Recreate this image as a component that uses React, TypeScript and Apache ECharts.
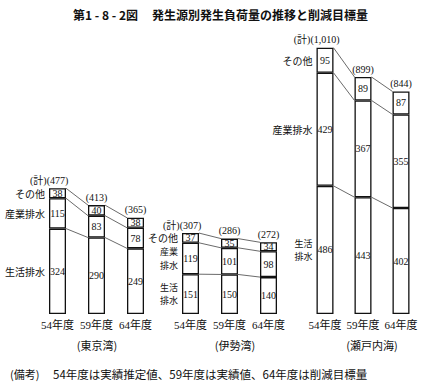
import React, { useEffect, useRef } from 'react';
import * as echarts from 'echarts';

const years = ['54年度', '59年度', '64年度'];
const regions = ['(東京湾)', '(伊勢湾)', '(瀬戸内海)'];
const seikatsu = [[324, 290, 249], [151, 150, 140], [486, 443, 402]];
const sangyo = [[115, 83, 78], [119, 101, 98], [429, 367, 355]];
const sonota = [[38, 40, 38], [37, 35, 34], [95, 89, 87]];
const segNames = [
  ['生活排水', '産業排水', 'その他'],
  ['生活\n排水', '産業\n排水', 'その他'],
  ['生活\n排水', '産業排水', 'その他'],
];
const titleNo = '第1 - 8 - 2図';
const titleText = '発生源別発生負荷量の推移と削減目標量';
const noteHead = '(備考)';
const noteText = '54年度は実績推定値、59年度は実績値、64年度は削減目標量';

export default function App() {
  const ref = useRef<HTMLDivElement>(null);
  useEffect(() => {
    const chart = echarts.init(ref.current!, null, { renderer: 'svg' });
    const font = '"Liberation Serif", "Noto Sans CJK JP", serif';
    const cjk = '"Noto Sans CJK JP", sans-serif';
    const grids = [
      { left: 38, width: 117 },
      { left: 171, width: 117 },
      { left: 306, width: 114 },
    ];
    const groupCenters = [97, 235, 372];
    const barW = 17;
    const measure = (t: string, size: number) => {
      const c = document.createElement('canvas').getContext('2d')!;
      c.font = `${size}px ${font}`;
      return c.measureText(t).width;
    };
    const series: any[] = [];
    regions.forEach((r, k) => {
      const segs = [seikatsu[k], sangyo[k], sonota[k]];
      segs.forEach((vals) => {
        series.push({
          type: 'bar',
          xAxisIndex: k,
          yAxisIndex: k,
          stack: 'g' + k,
          barWidth: barW,
          data: vals,
          itemStyle: { color: '#fff', borderColor: '#111', borderWidth: 1.3 },
          label: { show: true, position: 'inside', color: '#111', fontSize: 10, fontFamily: font },
          z: 3,
        });
      });
      series.push({
        type: 'custom',
        xAxisIndex: k,
        yAxisIndex: k,
        clip: false,
        z: 4,
        data: [[0, 0], [1, 0], [2, 0]],
        encode: { x: 0, y: 1 },
        renderItem: (params: any, api: any) => {
          const i = api.value(0);
          const cum = (j: number) => {
            const a = segs[0][j];
            const b = a + segs[1][j];
            const c = b + segs[2][j];
            return [a, b, c];
          };
          const cur = cum(i);
          const children: any[] = [];
          const cx = api.coord([i, 0])[0];
          if (i < 2) {
            const nxt = cum(i + 1);
            for (let m = 0; m < 3; m++) {
              const p1 = api.coord([i, cur[m]]);
              const p2 = api.coord([i + 1, nxt[m]]);
              children.push({
                type: 'line',
                shape: { x1: p1[0] + barW / 2, y1: p1[1], x2: p2[0] - barW / 2, y2: p2[1] },
                style: { stroke: '#444', lineWidth: 0.8 },
              });
            }
          }
          const topY = api.coord([i, cur[2]])[1];
          const totalText = '(' + cur[2].toLocaleString('en-US') + ')';
          children.push({
            type: 'text',
            x: cx,
            y: topY - 3,
            style: { text: totalText, align: 'center', verticalAlign: 'bottom', fontSize: 10, fontFamily: font, fill: '#111' },
          });
          if (i === 0) {
            const tw = measure(totalText, 10);
            children.push({
              type: 'text',
              x: cx - tw / 2,
              y: topY - 3,
              style: { text: '(計)', align: 'right', verticalAlign: 'bottom', fontSize: 10, fontFamily: font, fill: '#111' },
            });
            const bounds = [0, ...cur];
            for (let m = 0; m < 3; m++) {
              const yc = api.coord([i, (bounds[m] + bounds[m + 1]) / 2])[1];
              const lines = segNames[k][m].split('\n');
              const multi = lines.length > 1;
              lines.forEach((ln, li) => {
                children.push({
                  type: 'text',
                  x: cx - barW / 2 - 4,
                  y: yc + (li - (lines.length - 1) / 2) * 13.4,
                  style: {
                    text: ln,
                    align: 'right',
                    verticalAlign: 'middle',
                    fontSize: multi ? 9 : 10,
                    fontFamily: cjk,
                    fill: '#111',
                  },
                });
              });
            }
          }
          return { type: 'group', children };
        },
      });
    });

    chart.setOption({
      animation: false,
      grid: grids.map((g) => ({ left: g.left, width: g.width, top: 24, bottom: 70 })),
      xAxis: grids.map((g, k) => ({
        type: 'category',
        gridIndex: k,
        data: years,
        axisLine: { show: false },
        axisTick: { show: false },
        axisLabel: { interval: 0, hideOverlap: false, fontSize: 11, margin: 5, color: '#111', fontFamily: font },
      })),
      yAxis: grids.map((g, k) => ({
        type: 'value',
        gridIndex: k,
        min: 0,
        max: 1100,
        show: false,
      })),
      graphic: [
        {
          type: 'text',
          left: 73,
          top: 8,
          style: { text: titleNo, fontSize: 12, fontWeight: 'bold', fontFamily: cjk, fill: '#111' },
        },
        {
          type: 'text',
          left: 152,
          top: 8,
          style: { text: titleText, fontSize: 12, fontWeight: 'bold', fontFamily: cjk, fill: '#111' },
        },
        ...regions.map((r, k) => ({
          type: 'text',
          x: groupCenters[k],
          y: 345,
          style: { text: r, align: 'center', verticalAlign: 'middle', fontSize: 11, fontFamily: cjk, fill: '#111' },
        })),
        {
          type: 'text',
          x: 10,
          y: 374,
          style: { text: noteHead, verticalAlign: 'middle', fontSize: 11, fontFamily: cjk, fill: '#111' },
        },
        {
          type: 'text',
          x: 53,
          y: 374,
          style: { text: noteText, verticalAlign: 'middle', fontSize: 11.5, fontFamily: cjk, fill: '#111' },
        },
      ],
      series,
    });
    return () => chart.dispose();
  }, []);
  return <div ref={ref} style={{ position: 'absolute', left: 0, top: 0, width: 426, height: 384 }} />;
}
